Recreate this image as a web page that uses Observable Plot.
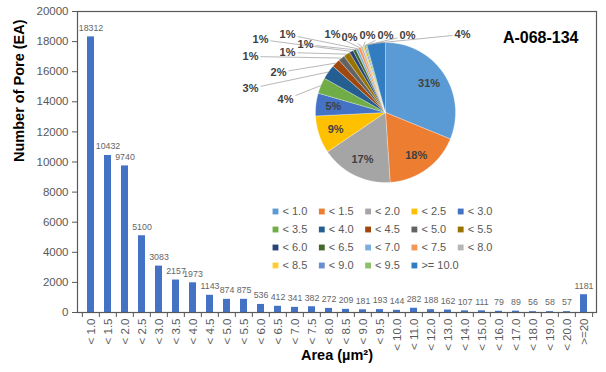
<!DOCTYPE html>
<html><head><meta charset="utf-8">
<script src="https://cdn.jsdelivr.net/npm/d3@7"></script>
<script src="https://cdn.jsdelivr.net/npm/@observablehq/plot@0.6"></script>
<style>
body{margin:0;background:#fff;}
#chart{position:relative;width:606px;height:372px;overflow:hidden;}
#chart svg{position:absolute;left:0;top:0;}
</style></head><body><div id="chart"></div>
<script>
// ---- data ----
const categories = ["< 1.0","< 1.5","< 2.0","< 2.5","< 3.0","< 3.5","< 4.0","< 4.5","< 5.0","< 5.5",
  "< 6.0","< 6.5","< 7.0","< 7.5","< 8.0","< 8.5","< 9.0","< 9.5","< 10.0","< 11.0",
  "< 12.0","< 13.0","< 14.0","< 15.0","< 16.0","< 17.0","< 18.0","< 19.0","< 20.0",">=20"];
const counts = [18312,10432,9740,5100,3083,2157,1973,1143,874,875,
  536,412,341,382,272,209,181,193,144,282,
  188,162,107,111,79,89,56,58,57,1181];
const yTicks = [0,2000,4000,6000,8000,10000,12000,14000,16000,18000,20000];
const chartTitle = "A-068-134";
const xTitle = "Area (µm²)";
const yTitle = "Number of Pore (EA)";
const pieCategories = ["< 1.0","< 1.5","< 2.0","< 2.5","< 3.0","< 3.5","< 4.0","< 4.5","< 5.0","< 5.5",
  "< 6.0","< 6.5","< 7.0","< 7.5","< 8.0","< 8.5","< 9.0","< 9.5",">= 10.0"];
const pieCounts = [18312,10432,9740,5100,3083,2157,1973,1143,874,875,536,412,341,382,272,209,181,193,2514];
const pieColors = ["#5B9BD5","#ED7D31","#A5A5A5","#FFC000","#4472C4","#70AD47","#255E91","#9E480E","#636363","#997300",
  "#264478","#43682B","#7CAFDD","#F1975A","#B7B7B7","#FFCD33","#698ED0","#8CC168","#327DC2"];

// ---- layout ----
const W = 606, H = 372, mL = 77, mR = 10, mT = 11, mB = 60;
const step = (W - mL - mR) / categories.length;
const font = "'Liberation Sans', Arial, sans-serif";
const pieCx = 385, pieCy = 112, pieR = 70;
// outside label spots (px offsets from pie centre) for slices 5..18
const outerSpots = [[-100,-13],[-135,-24],[-107,-40],[-135,-56],[-98,-60],[-125,-73],[-80,-68],
  [-98,-78],[-53,-78],[-36,-75],[-18,-77],[0,-77],[22,-77],[77,-78]];
const legX0 = 275, legDX = 46.3, legY0 = 211, legDY = 18, legCols = 5;

const bars = categories.map((c, i) => ({cat: c, value: counts[i]}));

const main = Plot.plot({
  width: W, height: H, marginLeft: mL, marginRight: mR, marginTop: mT, marginBottom: mB,
  style: {fontFamily: font, background: "white", overflow: "visible"},
  x: {domain: categories, paddingInner: 0.6, paddingOuter: 0.3, axis: null},
  y: {domain: [0, 20000], axis: null},
  marks: [
    Plot.barY(bars, {x: "cat", y: "value", fill: "#4472C4"}),
    Plot.text(bars, {x: "cat", y: "value", text: d => String(d.value), dy: -9, fontSize: 8.8, fill: "#666"}),
    Plot.axisY({ticks: yTicks, tickFormat: d3.format("d"), tickSize: 5, tickPadding: 4, fontSize: 11.5, color: "#595959", label: null}),
    Plot.axisX({tickRotate: -90, tickSize: 0, tickPadding: 6, fontSize: 11.5, color: "#595959", label: null}),
    Plot.ruleX(categories, {x: d => d, y1: 0, y2: 0, dx: -step / 2, insetBottom: -5, stroke: "#595959"}),
    Plot.ruleX(categories.slice(-1), {x: d => d, y1: 0, y2: 0, dx: step / 2, insetBottom: -5, stroke: "#595959"}),
    Plot.frame({stroke: "#595959", strokeWidth: 1.2}),
    Plot.text([yTitle], {frameAnchor: "left", rotate: -90, dx: -58, fontSize: 14.5, fontWeight: "bold", fill: "#000"}),
    Plot.text([xTitle], {frameAnchor: "bottom", dy: 47, fontSize: 14.5, fontWeight: "bold", fill: "#000"}),
    Plot.text([chartTitle], {frameAnchor: "top-right", textAnchor: "end", dx: -18, dy: 20, fontSize: 16, fontWeight: "bold", fill: "#000"})
  ]
});

// ---- pie ----
const pieData = pieCategories.map((c, i) => ({cat: c, value: pieCounts[i], color: pieColors[i]}));
const total = d3.sum(pieCounts);
const arcs = d3.pie().sort(null).value(d => d.value)(pieData);
const pt = (a, r) => ({x: pieCx + r * Math.sin(a), y: pieCy - r * Math.cos(a)});
const slices = arcs.map((a, i) => {
  const n = Math.max(2, Math.ceil((a.endAngle - a.startAngle) / 0.02));
  const pts = [pt(0, 0)];
  for (let k = 0; k <= n; k++) pts.push(pt(a.startAngle + (a.endAngle - a.startAngle) * k / n, pieR));
  pts.push(pt(0, 0));
  return pts;
});
const pctText = v => Math.round(v / total * 100) + "%";
const innerLabels = [], outerLabels = [], leaders = [];
arcs.forEach((a, i) => {
  const mid = (a.startAngle + a.endAngle) / 2;
  if (i < 5) {
    const p = pt(mid, pieR * 0.75);
    innerLabels.push({x: p.x, y: p.y, text: pctText(a.value)});
  } else {
    const s = outerSpots[i - 5];
    const lx = pieCx + s[0], ly = pieCy + s[1];
    outerLabels.push({x: lx, y: ly, text: pctText(a.value)});
    const tgt = pt(mid, pieR);
    const vx = tgt.x - lx, vy = tgt.y - ly;
    const t = Math.min(Math.abs(vx) > 0 ? 10 / Math.abs(vx) : Infinity, Math.abs(vy) > 0 ? 6 / Math.abs(vy) : Infinity);
    leaders.push({x1: lx + vx * t, y1: ly + vy * t, x2: tgt.x, y2: tgt.y});
  }
});
const legend = pieData.map((d, i) => ({
  x: legX0 + (i % legCols) * legDX, y: legY0 + Math.floor(i / legCols) * legDY, cat: d.cat, color: d.color
}));

const overlay = Plot.plot({
  width: W, height: H, margin: 0,
  style: {fontFamily: font, background: "transparent", overflow: "visible"},
  x: {type: "identity", axis: null},
  y: {type: "identity", axis: null},
  marks: [
    ...slices.map((pts, i) => Plot.line(pts, {x: "x", y: "y", fill: pieColors[i], stroke: "white", strokeWidth: 0.3, curve: "linear"})),
    Plot.link(leaders, {x1: "x1", y1: "y1", x2: "x2", y2: "y2", stroke: "#A6A6A6", strokeWidth: 0.8}),
    Plot.text(innerLabels, {x: "x", y: "y", text: "text", fontSize: 11, fontWeight: "bold", fill: "#404040"}),
    Plot.text(outerLabels, {x: "x", y: "y", text: "text", fontSize: 11, fontWeight: "bold", fill: "#404040"}),
    Plot.dot(legend, {x: "x", y: "y", symbol: "square", r: 3.3, fill: "color", stroke: null}),
    Plot.text(legend, {x: "x", y: "y", text: "cat", dx: 7, textAnchor: "start", fontSize: 11, fill: "#595959"})
  ]
});

const el = document.getElementById("chart");
el.appendChild(main);
el.appendChild(overlay);
</script></body></html>
